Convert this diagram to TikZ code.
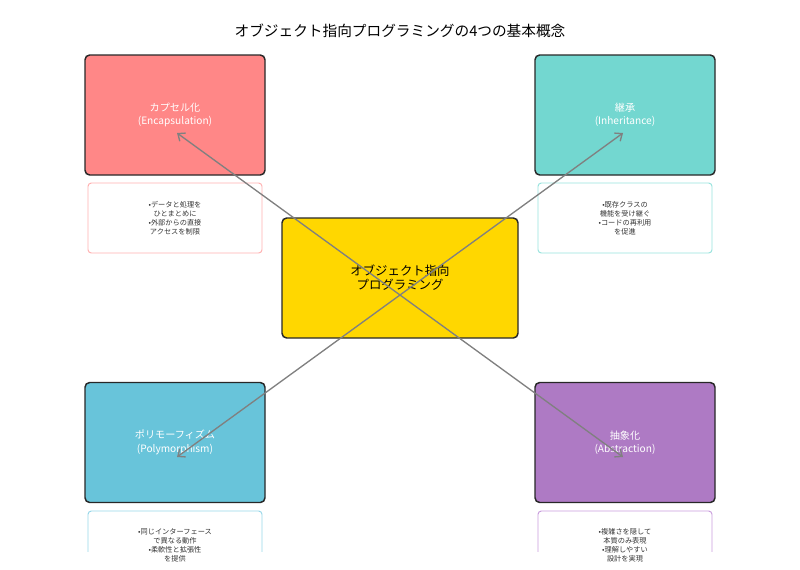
\documentclass[tikz,border=0pt]{standalone}
\usepackage{fontspec}
\setmainfont{Noto Sans CJK JP}
\usepackage{tikz}
\usetikzlibrary{calc}
\usetikzlibrary{arrows.meta}
\usepackage{xcolor}

\definecolor{encRed}{RGB}{255,135,135}
\definecolor{encLine}{RGB}{255,175,175}
\definecolor{inhTeal}{RGB}{115,215,208}
\definecolor{inhLine}{RGB}{150,226,221}
\definecolor{polyBlue}{RGB}{104,196,218}
\definecolor{polyLine}{RGB}{150,214,232}
\definecolor{absPurple}{RGB}{174,122,196}
\definecolor{absLine}{RGB}{200,156,220}
\definecolor{oopGold}{RGB}{255,215,0}
\definecolor{edgeGray}{RGB}{40,40,40}
\definecolor{arrowGray}{RGB}{128,128,128}

\begin{document}
\begin{tikzpicture}[x=0.75pt,y=-0.75pt,
    concept/.style={draw=edgeGray,line width=1.1pt,rounded corners=3.5pt,
        minimum width=135pt,minimum height=90pt,text=white,align=center,
        font=\fontsize{7.6}{10}\selectfont},
    desctext/.style={align=center,text=black!80,font=\fontsize{5.4}{6.8}\selectfont},
    descbox/.style={line width=0.7pt,rounded corners=2.5pt},
    link/.style={-{Straight Barb[length=4.5pt,width=7.5pt]},draw=arrowGray,line width=1pt}]
        \useasboundingbox (0,0) rectangle (800,569);
        \node[font=\fontsize{11}{13}\selectfont] (title) at (400,31) {オブジェクト指向プログラミングの4つの基本概念};
        % four concepts
        \node[concept,fill=encRed] (enc) at (175,115) {カプセル化\\(Encapsulation)};
        \node[concept,fill=inhTeal] (inh) at (625,115) {継承\\(Inheritance)};
        \node[concept,fill=polyBlue] (poly) at (175,442.5) {ポリモーフィズム\\(Polymorphism)};
        \node[concept,fill=absPurple] (abs) at (625,442.5) {抽象化\\(Abstraction)};
        % centre
        \node[concept,fill=oopGold,minimum width=177pt,text=black,font=\fontsize{9.3}{10.5}\selectfont] (oop) at (400,278) {オブジェクト指向\\プログラミング};
        % descriptions
        \node[desctext] (encDesc) at (175,218) {•データと処理を\\ひとまとめに\\•外部からの直接\\アクセスを制限};
        \node[desctext] (inhDesc) at (625,218) {•既存クラスの\\機能を受け継ぐ\\•コードの再利用\\を促進};
        \node[desctext] (polyDesc) at (175,545.5) {•同じインターフェース\\で異なる動作\\•柔軟性と拡張性\\を提供};
        \node[desctext] (absDesc) at (625,545.5) {•複雑さを隠して\\本質のみ表現\\•理解しやすい\\設計を実現};
        \begin{scope}
            \clip (0,0) rectangle (800,551);
            \draw[descbox,draw=encLine] (88,183) rectangle (262,253);
            \draw[descbox,draw=inhLine] (538,183) rectangle (712,253);
            \draw[descbox,draw=polyLine] (88,511) rectangle (262,581);
            \draw[descbox,draw=absLine] (538,511) rectangle (712,581);
        \end{scope}
        % arrows from the hub
        \coordinate (hub) at (400,295);
        \coordinate (encTip) at (177,133);
        \coordinate (inhTip) at (623,133);
        \coordinate (polyTip) at (177,457);
        \coordinate (absTip) at (623,457);
        \draw[link] (hub) -- (encTip);
        \draw[link] (hub) -- (inhTip);
        \draw[link] (hub) -- (polyTip);
        \draw[link] (hub) -- (absTip);
    \end{tikzpicture}
\end{document}
